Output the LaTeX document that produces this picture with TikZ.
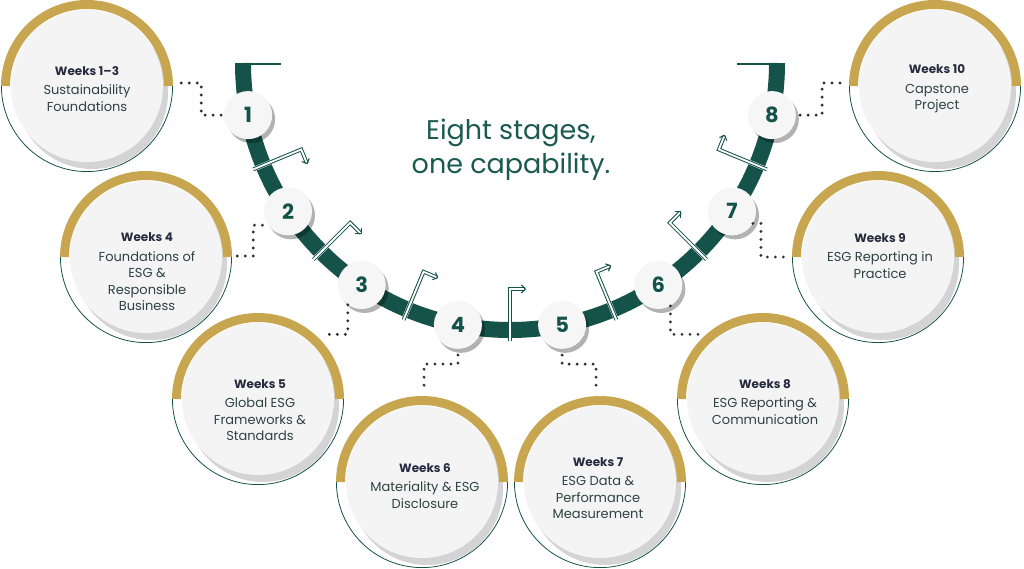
\documentclass[tikz,border=0pt]{standalone}
\usepackage{fontspec}
\setmainfont{Poppins}
\usetikzlibrary{arrows.meta,shadows}
\definecolor{bandc}{HTML}{14524A}
\definecolor{titlec}{HTML}{1B5A51}
\definecolor{goldc}{HTML}{C8A64F}
\definecolor{weekc}{HTML}{262B3F}
\definecolor{bodyc}{HTML}{2D4341}
\definecolor{discc}{HTML}{F4F4F4}
\definecolor{badgec}{HTML}{F6F6F6}
\definecolor{dotc}{HTML}{2E2E2E}
\newcommand{\wk}[1]{\textcolor{weekc}{\bfseries\fontsize{12}{15}\selectfont #1}}

\begin{document}
\begin{tikzpicture}[x=1pt, y=-1pt,
  stage/.style={circle, minimum size=152pt, inner sep=0pt, fill=discc,
    drop shadow={shadow xshift=5pt, shadow yshift=-7pt, opacity=0.17, fill=black}},
  goldarc/.style={draw=goldc, line width=9pt},
  rimarc/.style={draw=bandc, line width=0.8pt},
  stagetext/.style={align=center, text=bodyc, font=\fontsize{13}{16.5}\selectfont},
  badge/.style={circle, minimum size=48pt, inner sep=0pt, fill=badgec, text=bandc,
    font=\bfseries\fontsize{21}{21}\selectfont,
    drop shadow={shadow xshift=3pt, shadow yshift=-4pt, opacity=0.3, fill=black}},
  dots/.style={draw=dotc, line width=3.2pt, line cap=round, dash pattern=on 0pt off 8pt},
  band/.style={draw=bandc, line width=16pt},
  cut/.style={draw=white, line width=4.5pt},
  steparrow/.style={draw=bandc, double=white, double distance=1.8pt, line width=1pt,
    -{Straight Barb[length=4pt, width=8pt]}},
  titletext/.style={align=center, text=titlec, font=\fontsize{27}{34}\selectfont}]
\useasboundingbox (0,0) rectangle (1024,569);

% stage circles
\node (s1) at (87,86) [stage]{};
\draw[goldarc] ([xshift=-81.5pt]s1.center) arc[start angle=180, end angle=360, radius=81.5];
\draw[rimarc] ([xshift=85.6pt]s1.center) arc[start angle=0, end angle=180, radius=85.6];
\node (t1) at (87,89) [stagetext]{\wk{Weeks 1–3}\\[3pt]Sustainability\\Foundations};

\node (s2) at (146,257) [stage]{};
\draw[goldarc] ([xshift=-81.5pt]s2.center) arc[start angle=180, end angle=360, radius=81.5];
\draw[rimarc] ([xshift=85.6pt]s2.center) arc[start angle=0, end angle=180, radius=85.6];
\node (t2) at (147,272) [stagetext]{\wk{Weeks 4}\\[3pt]Foundations of\\ESG \&\\Responsible\\Business};

\node (s3) at (258,399) [stage]{};
\draw[goldarc] ([xshift=-81.5pt]s3.center) arc[start angle=180, end angle=360, radius=81.5];
\draw[rimarc] ([xshift=85.6pt]s3.center) arc[start angle=0, end angle=180, radius=85.6];
\node (t3) at (260,410) [stagetext]{\wk{Weeks 5}\\[3pt]Global ESG\\Frameworks \&\\Standards};

\node (s4) at (422,482) [stage]{};
\draw[goldarc] ([xshift=-81.5pt]s4.center) arc[start angle=180, end angle=360, radius=81.5];
\draw[rimarc] ([xshift=85.6pt]s4.center) arc[start angle=0, end angle=180, radius=85.6];
\node (t4) at (425,486) [stagetext]{\wk{Weeks 6}\\[3pt]Materiality \& ESG\\Disclosure};

\node (s5) at (600,482) [stage]{};
\draw[goldarc] ([xshift=-81.5pt]s5.center) arc[start angle=180, end angle=360, radius=81.5];
\draw[rimarc] ([xshift=85.6pt]s5.center) arc[start angle=0, end angle=180, radius=85.6];
\node (t5) at (598,488) [stagetext]{\wk{Weeks 7}\\[3pt]ESG Data \&\\Performance\\Measurement};

\node (s6) at (763,399) [stage]{};
\draw[goldarc] ([xshift=-81.5pt]s6.center) arc[start angle=180, end angle=360, radius=81.5];
\draw[rimarc] ([xshift=85.6pt]s6.center) arc[start angle=0, end angle=180, radius=85.6];
\node (t6) at (765,402) [stagetext]{\wk{Weeks 8}\\[3pt]ESG Reporting \&\\Communication};

\node (s7) at (878,257) [stage]{};
\draw[goldarc] ([xshift=-81.5pt]s7.center) arc[start angle=180, end angle=360, radius=81.5];
\draw[rimarc] ([xshift=85.6pt]s7.center) arc[start angle=0, end angle=180, radius=85.6];
\node (t7) at (880,256) [stagetext]{\wk{Weeks 9}\\[3pt]ESG Reporting in\\Practice};

\node (s8) at (935,86) [stage]{};
\draw[goldarc] ([xshift=-81.5pt]s8.center) arc[start angle=180, end angle=360, radius=81.5];
\draw[rimarc] ([xshift=85.6pt]s8.center) arc[start angle=0, end angle=180, radius=85.6];
\node (t8) at (937,89) [stagetext]{\wk{Weeks 10}\\[3pt]Capstone\\Project};

% track
\coordinate (c) at (510,63);
\draw[band] (c) ++(180:267) arc[start angle=180, end angle=0, radius=267];
\draw[bandc, line width=1.3pt] (235,64) -- (281,64);
\draw[bandc, line width=1.3pt] (737,64) -- (785,64);

% breaks
\draw[cut] (c) ++(157.5:278) -- ++(337.5:24);
\draw[steparrow] (c) ++(157.5:278) -- ++(337.5:52) -- ++(67.5:16);
\draw[cut] (c) ++(135:278) -- ++(315:24);
\draw[steparrow] (c) ++(135:278) -- ++(315:52) -- ++(45:16);
\draw[cut] (c) ++(112.5:278) -- ++(292.5:24);
\draw[steparrow] (c) ++(112.5:278) -- ++(292.5:52) -- ++(22.5:16);
\draw[cut] (c) ++(90:278) -- ++(270:24);
\draw[steparrow] (c) ++(90:278) -- ++(270:52) -- ++(0:16);
\draw[cut] (c) ++(67.5:278) -- ++(247.5:24);
\draw[steparrow] (c) ++(67.5:278) -- ++(247.5:52) -- ++(-22.5:16);
\draw[cut] (c) ++(45:278) -- ++(225:24);
\draw[steparrow] (c) ++(45:278) -- ++(225:52) -- ++(-45:16);
\draw[cut] (c) ++(22.5:278) -- ++(202.5:24);
\draw[steparrow] (c) ++(22.5:278) -- ++(202.5:52) -- ++(-67.5:16);

% badges
\node (n1) at ([shift={(168.75:267)}]c) [badge]{1};
\node (n2) at ([shift={(146.25:267)}]c) [badge]{2};
\node (n3) at ([shift={(123.75:267)}]c) [badge]{3};
\node (n4) at ([shift={(101.25:267)}]c) [badge]{4};
\node (n5) at ([shift={(78.75:267)}]c) [badge]{5};
\node (n6) at ([shift={(56.25:267)}]c) [badge]{6};
\node (n7) at ([shift={(33.75:267)}]c) [badge]{7};
\node (n8) at ([shift={(11.25:267)}]c) [badge]{8};

% dotted links
\draw[dots] ([shift={(18pt,3pt)}]s1.east) -- ++(20,0) |- (n1.west);
\draw[dots] ([shift={(15pt,1pt)}]s2.east) -- ++(16,0) |- (n2.215);
\draw[dots] (n3.235) |- ([shift={(13pt,8pt)}]s3.48);
\draw[dots] ([yshift=-6pt]n4.south) -- ++(0,9) -| ([shift={(2pt,18pt)}]s4.north);
\draw[dots] ([yshift=-6pt]n5.south) -- ++(0,9) -| ([shift={(-4pt,18pt)}]s5.north);
\draw[dots] (n6.300) |- ([shift={(-12pt,8pt)}]s6.132);
\draw[dots] (n7.330) -- ++(8,0) |- ([xshift=-15pt]s7.west);
\draw[dots] ([xshift=4pt]n8.east) -- ++(22,0) |- ([shift={(-17pt,3pt)}]s8.west);

\node (title) at (511,150) [titletext]{Eight stages,\\one capability.};
\end{tikzpicture}
\end{document}
